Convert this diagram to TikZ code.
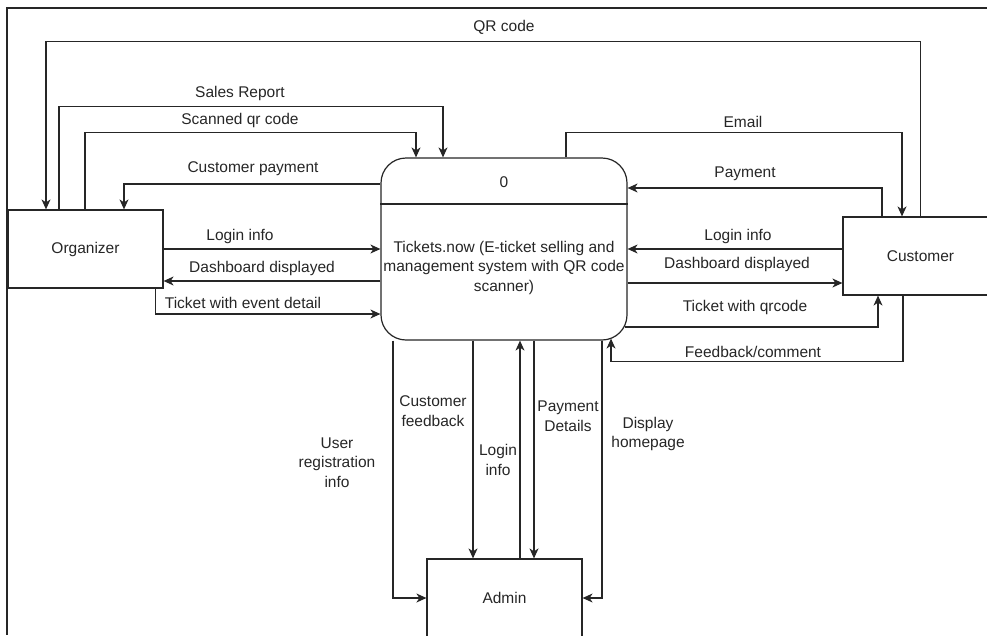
\documentclass[tikz,border=0pt]{standalone}
\usepackage{fontspec}
\setmainfont{Liberation Sans}
\usetikzlibrary{arrows.meta,calc}
\begin{document}
\begin{tikzpicture}[x=1pt,y=-1pt,
  every node/.style={font=\fontsize{15.5}{19.5}\selectfont, text=black!85},
  line/.style={draw=black!85, line width=1.2pt},
  flow/.style={line, -{Stealth[length=10pt,width=9pt,inset=3pt]}},
  entity/.style={line, fill=white, minimum width=155pt, minimum height=78pt, inner sep=0pt},
  process/.style={line, fill=white, rounded corners=25pt, minimum width=246pt, minimum height=182pt, inner sep=0pt},
  lbl/.style={inner sep=0pt, align=center},
]
\useasboundingbox (0,0) rectangle (987,635);

% page frame
\draw[line] (987,8) -| (7,635);

% external entities and the process
\node[entity] (org) at (85.5,249) {Organizer};
\node[entity] (cust) at (920.5,256) {Customer};
\node[entity] (admin) at (504.5,598) {Admin};
\node[process] (proc) at (504,249) {};
\draw[line] ([yshift=45pt]proc.west) -- ([yshift=45pt]proc.east);
\node (procid) at (504,182) {0};
\node[lbl] (proctext) at (504,267.5) {Tickets.now (E-ticket selling and\\management system with QR code\\scanner)};

% organizer flows
\draw[flow] (cust.north) -- ++(0,-175) -| ([xshift=-39.5pt]org.north);
\draw[flow] ([xshift=-26.5pt]org.north) -- ++(0,-103) -| ([xshift=-61pt]proc.north);
\draw[flow] ([xshift=-0.5pt]org.north) -- ++(0,-77) -| ([xshift=-88pt]proc.north);
\draw[flow] ([yshift=65pt]proc.west) -| ([xshift=38.5pt]org.north);
\draw[flow] (org.east) -- (proc.west);
\draw[flow] ([yshift=-32pt]proc.west) -- ([yshift=-32pt]proc.west -| org.east);
\draw[flow] ([xshift=-8pt]org.south east) |- ([yshift=-65pt]proc.west);

% customer flows
\draw[flow] ([xshift=62pt]proc.north) -- ++(0,-25) -| ([xshift=-18.5pt]cust.north);
\draw[flow] ([xshift=-38.5pt]cust.north) |- ([yshift=61pt]proc.east);
\draw[flow] ([yshift=7pt]cust.west) -- (proc.east);
\draw[flow] ([yshift=-34pt]proc.east) -- ([yshift=-34pt]proc.east -| cust.west);
\draw[flow] ([xshift=-3pt,yshift=-78pt]proc.east) -| ([xshift=-42.5pt]cust.south);
\draw[flow] ([xshift=-17.5pt]cust.south) -- ++(0,66) -| ([xshift=107pt,yshift=2pt]proc.south);

% admin flows
\draw[flow] ([xshift=-111pt]proc.south) |- (admin.west);
\draw[flow] ([xshift=-31pt]proc.south) -- ([xshift=-31pt]proc.south |- admin.north);
\draw[flow] ([xshift=16pt]proc.south |- admin.north) -- ([xshift=16pt]proc.south);
\draw[flow] ([xshift=30pt]proc.south) -- ([xshift=30pt]proc.south |- admin.north);
\draw[flow] ([xshift=98pt]proc.south) |- (admin.east);

% flow labels
\node[lbl] (l-qr) at (504,27) {QR code};
\node[lbl] (l-sales) at (240,93) {Sales Report};
\node[lbl] (l-scan) at (240,120) {Scanned qr code};
\node[lbl] (l-cpay) at (253,169) {Customer payment};
\node[lbl] (l-ologin) at (240,236) {Login info};
\node[lbl] (l-odash) at (262,268) {Dashboard displayed};
\node[lbl] (l-oticket) at (243,303) {Ticket with event detail};
\node[lbl] (l-email) at (743,122) {Email};
\node[lbl] (l-pay) at (745,174) {Payment};
\node[lbl] (l-clogin) at (738,236) {Login info};
\node[lbl] (l-cdash) at (737,264) {Dashboard displayed};
\node[lbl] (l-cticket) at (745,307) {Ticket with qrcode};
\node[lbl] (l-fb) at (753,352) {Feedback/comment};
\node[lbl] (l-reg) at (337,462.5) {User\\registration\\info};
\node[lbl] (l-cfb) at (433,411) {Customer\\feedback};
\node[lbl] (l-alogin) at (498,460) {Login\\info};
\node[lbl] (l-pdet) at (568,416) {Payment\\Details};
\node[lbl] (l-disp) at (648,434) {Display\\homepage};
\end{tikzpicture}
\end{document}
